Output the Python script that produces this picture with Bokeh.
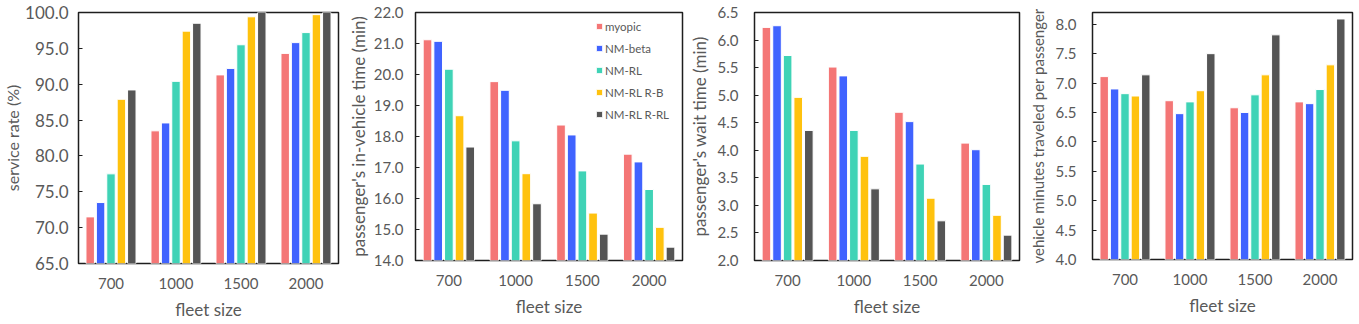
from bokeh.plotting import figure
from bokeh.layouts import row
from bokeh.models import (Range1d, Legend, LegendItem, SingleIntervalTicker,
                          NumeralTickFormatter, ColumnDataSource)
from bokeh.transform import dodge
from bokeh.embed import file_html
from bokeh.resources import INLINE

fleet = ["700", "1000", "1500", "2000"]
series = ["myopic", "NM-beta", "NM-RL", "NM-RL R-B", "NM-RL R-RL"]
colors = ["#F47676", "#4063FF", "#3FD3B6", "#FFC20E", "#555555"]

# values per series (rows) for each fleet size (columns)
service_rate = [
    [71.5, 83.5, 91.3, 94.3],
    [73.5, 84.6, 92.2, 95.8],
    [77.5, 90.4, 95.5, 97.2],
    [87.9, 97.4, 99.4, 99.7],
    [89.2, 98.5, 100.0, 100.0],
]
in_vehicle_time = [
    [21.12, 19.77, 18.37, 17.43],
    [21.07, 19.49, 18.05, 17.18],
    [20.17, 17.86, 16.89, 16.29],
    [18.67, 16.80, 15.53, 15.07],
    [17.66, 15.83, 14.85, 14.43],
]
wait_time = [
    [6.23, 5.51, 4.69, 4.13],
    [6.26, 5.35, 4.52, 4.01],
    [5.72, 4.36, 3.75, 3.38],
    [4.96, 3.89, 3.13, 2.82],
    [4.36, 3.30, 2.72, 2.46],
]
vehicle_minutes = [
    [7.11, 6.70, 6.58, 6.68],
    [6.90, 6.48, 6.50, 6.65],
    [6.82, 6.68, 6.80, 6.89],
    [6.78, 6.87, 7.14, 7.31],
    [7.14, 7.50, 7.82, 8.09],
]

FONT = "Lato"
GREY = "#595959"
offsets = [-0.32, -0.16, 0.0, 0.16, 0.32]


def panel(values, ylabel, y0, y1, step, bl, br, bt, fw, fh, tick_standoff,
          label_standoff, tick_size, label_size, legend=False):
    data = {"fleet": fleet}
    for i, s in enumerate(series):
        data["s%d" % i] = values[i]
    src = ColumnDataSource(data)
    p = figure(x_range=fleet, y_range=Range1d(y0, y1), frame_width=fw, frame_height=fh,
               output_backend="svg", toolbar_location=None,
               min_border_left=bl, min_border_right=br, min_border_top=bt,
               min_border_bottom=50)
    p.background_fill_color = "white"
    p.border_fill_color = "white"
    p.outline_line_color = "#1e1e1e"
    p.outline_line_width = 1.5
    p.x_range.range_padding = 0
    p.xgrid.grid_line_color = None
    p.ygrid.grid_line_color = None
    renderers = []
    for i, s in enumerate(series):
        r = p.vbar(x=dodge("fleet", offsets[i], range=p.x_range), top="s%d" % i,
                   bottom=y0, width=0.13, source=src, fill_color=colors[i],
                   line_color="white", line_width=1)
        renderers.append(r)
    ya = p.yaxis[0]
    ya.ticker = SingleIntervalTicker(interval=step)
    ya.formatter = NumeralTickFormatter(format="0.0")
    ya.axis_line_color = None
    ya.major_tick_in = 4
    ya.major_tick_out = 0
    ya.major_tick_line_color = "#1e1e1e"
    ya.minor_tick_line_color = None
    ya.major_label_text_font = FONT
    ya.major_label_text_font_size = tick_size
    ya.major_label_text_color = GREY
    ya.major_label_standoff = tick_standoff
    ya.axis_label = ylabel
    ya.axis_label_text_font = FONT
    ya.axis_label_text_font_size = label_size
    ya.axis_label_text_font_style = "normal"
    ya.axis_label_text_color = GREY
    ya.axis_label_standoff = label_standoff
    xa = p.xaxis[0]
    xa.axis_line_color = None
    xa.major_tick_line_color = None
    xa.minor_tick_line_color = None
    xa.major_label_text_font = FONT
    xa.major_label_text_font_size = "15px"
    xa.major_label_text_color = GREY
    xa.major_label_standoff = 8
    xa.axis_label = "fleet size"
    xa.axis_label_text_font = FONT
    xa.axis_label_text_font_size = "17px"
    xa.axis_label_text_font_style = "normal"
    xa.axis_label_text_color = GREY
    xa.axis_label_standoff = 7
    if legend:
        items = [LegendItem(label=s, renderers=[renderers[i]]) for i, s in enumerate(series)]
        lg = Legend(items=items, location=(180, 139), padding=0, margin=0,
                    spacing=8, label_height=14, glyph_width=8, glyph_height=8,
                    label_standoff=2, border_line_color=None,
                    background_fill_alpha=0,
                    label_text_font=FONT, label_text_font_size="11.5px",
                    label_text_color=GREY)
        p.add_layout(lg)
    return p


p1 = panel(service_rate, "service rate (%)", 65, 100, 5, 75, 3, 11, 260, 251, 6, 0,
           "17px", "16px")
p2 = panel(in_vehicle_time, "passenger's in-vehicle time (min)", 14, 22, 1, 74, 3, 12, 267, 248,
           8, 2, "15px", "17px", legend=True)
p3 = panel(wait_time, "passenger's wait time (min)", 2.0, 6.5, 0.5, 67, 3, 11, 265, 248, 12, 5,
           "15px", "17px")
p4 = panel(vehicle_minutes, "vehicle minutes traveled per passenger", 4.0, 8.2, 0.5, 70, 3, 12,
           260, 247, 12, 6, "15px", "15px")

layout = row(p1, p2, p3, p4)
open("out.html", "w").write(file_html(layout, INLINE))
